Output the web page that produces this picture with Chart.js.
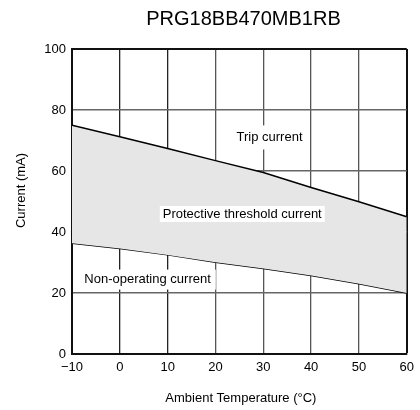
<!DOCTYPE html>
<html><head><meta charset="utf-8">
<script src="https://cdn.jsdelivr.net/npm/chart.js@4"></script>
<style>html,body{margin:0;padding:0;background:#fff}#wrap{width:420px;height:410px}</style>
</head><body><div id="wrap"><canvas id="c" width="420" height="410"></canvas></div>
<script>
const chartTitle = "PRG18BB470MB1RB";
const xTitle = "Ambient Temperature (°C)";
const yTitle = "Current (mA)";
const temps = [-10, 0, 10, 20, 30, 40, 50, 60];
const tripCurrent = [75, 71.2, 67.4, 63.4, 59.5, 54.6, 49.9, 45];
const nonOperatingCurrent = [36.3, 34.6, 32.5, 30.1, 28, 25.7, 23, 20];
const labels = [
  {text: "Trip current", x: 31.3, y: 71, padX: 4, padY: 12},
  {text: "Protective threshold current", x: 25.6, y: 45.9, padX: 3, padY: 8},
  {text: "Non-operating current", x: 5.8, y: 24.4, padX: 5, padY: 10}
];
const FONT = '"Liberation Sans", Arial, sans-serif';

const overlay = {
  id: 'overlay',
  afterDraw(chart) {
    const ctx = chart.ctx, xs = chart.scales.x, ys = chart.scales.y, ca = chart.chartArea;
    ctx.save();
    ctx.font = '13px ' + FONT;
    ctx.textAlign = 'center';
    ctx.textBaseline = 'middle';
    labels.forEach(l => {
      const px = xs.getPixelForValue(l.x), py = ys.getPixelForValue(l.y);
      const w = ctx.measureText(l.text).width;
      ctx.fillStyle = '#fff';
      ctx.fillRect(px - w / 2 - l.padX, py - l.padY, w + 2 * l.padX, 2 * l.padY);
      ctx.fillStyle = '#000';
      ctx.fillText(l.text, px, py);
    });
    // title
    ctx.font = '20px ' + FONT;
    ctx.fillText(chartTitle, 243.5, 19);
    // axis titles
    ctx.font = '13px ' + FONT;
    ctx.fillText(xTitle, (ca.left + ca.right) / 2 + 1.5, 398);
    ctx.translate(21, (ca.top + ca.bottom) / 2 - 11);
    ctx.rotate(-Math.PI / 2);
    ctx.fillText(yTitle, 0, 0);
    ctx.restore();
  }
};

new Chart(document.getElementById('c'), {
  type: 'line',
  data: {
    labels: temps,
    datasets: [
      {label: 'Trip current', data: temps.map((t, i) => ({x: t, y: tripCurrent[i]})),
       borderColor: '#000', borderWidth: 1.5, pointRadius: 0, fill: '+1', backgroundColor: '#e6e6e6', tension: 0},
      {label: 'Non-operating current', data: temps.map((t, i) => ({x: t, y: nonOperatingCurrent[i]})),
       borderColor: '#000', borderWidth: 1.5, pointRadius: 0, fill: false, tension: 0}
    ]
  },
  options: {
    responsive: false,
    animation: false,
    layout: {padding: {left: 0, right: 13, top: 49, bottom: 0}},
    plugins: {legend: {display: false}, tooltip: {enabled: false}, title: {display: false}},
    scales: {
      x: {
        type: 'linear', min: -10, max: 60, z: 1,
        afterFit(s) { s.height = 56; },
        ticks: {stepSize: 10, padding: 6, color: '#000', font: {size: 13, family: FONT},
                callback: v => String(v).replace('-', '\u2212')},
        grid: {drawTicks: false,
               color: c => (c.tick && c.tick.value === 60) ? '#111' : (c.tick && (c.tick.value === 0 || c.tick.value === 10) ? '#222' : '#555'),
               lineWidth: c => (c.tick && c.tick.value === 60) ? 2 : 1.3},
        border: {color: '#111', width: 2}
      },
      y: {
        min: 0, max: 100, z: 1,
        afterFit(s) { s.width = 72; },
        ticks: {stepSize: 20, padding: 6, color: '#000', font: {size: 13, family: FONT}},
        grid: {drawTicks: false,
               color: c => (c.tick && c.tick.value === 100) ? '#111' : '#666',
               lineWidth: c => (c.tick && c.tick.value === 100) ? 2 : 1.5},
        border: {color: '#111', width: 2}
      }
    }
  },
  plugins: [overlay]
});
</script></body></html>
